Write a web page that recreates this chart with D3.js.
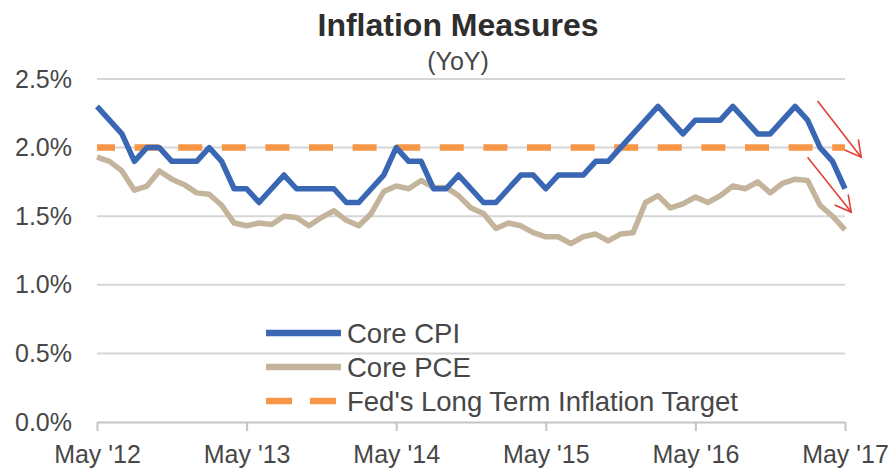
<!DOCTYPE html>
<html>
<head>
<meta charset="utf-8">
<script src="https://cdn.jsdelivr.net/npm/d3@7"></script>
<style>
  body { margin: 0; background: #fff; }
  text { font-family: "Liberation Sans", Arial, sans-serif; fill: #474747; }
</style>
</head>
<body>
<svg id="chart"></svg>
<script>
// months since May 2012 (0 .. 60)
let tickMonths = [0, 12, 24, 36, 48, 60];
let tickLabels = ["May '12", "May '13", "May '14", "May '15", "May '16", "May '17"];
let yTicks = [0, 0.5, 1.0, 1.5, 2.0, 2.5];

let coreCPI = [
  2.3, 2.2, 2.1, 1.9, 2.0, 2.0, 1.9, 1.9,
  1.9, 2.0, 1.9, 1.7, 1.7, 1.6, 1.7, 1.8, 1.7, 1.7, 1.7, 1.7,
  1.6, 1.6, 1.7, 1.8, 2.0, 1.9, 1.9, 1.7, 1.7, 1.8, 1.7, 1.6,
  1.6, 1.7, 1.8, 1.8, 1.7, 1.8, 1.8, 1.8, 1.9, 1.9, 2.0, 2.1,
  2.2, 2.3, 2.2, 2.1, 2.2, 2.2, 2.2, 2.3, 2.2, 2.1, 2.1, 2.2,
  2.3, 2.2, 2.0, 1.9, 1.7
];
let corePCE = [
  1.93, 1.90, 1.83, 1.69, 1.72, 1.83, 1.77, 1.73,
  1.67, 1.66, 1.58, 1.45, 1.43, 1.45, 1.44, 1.50, 1.49, 1.43, 1.49, 1.54,
  1.47, 1.43, 1.52, 1.68, 1.72, 1.70, 1.76, 1.71, 1.71, 1.65, 1.56, 1.52,
  1.41, 1.45, 1.43, 1.38, 1.35, 1.35, 1.30, 1.35, 1.37, 1.32, 1.37, 1.38,
  1.60, 1.65, 1.56, 1.59, 1.64, 1.60, 1.65, 1.72, 1.70, 1.75, 1.67, 1.74,
  1.77, 1.76, 1.58, 1.50, 1.40
];
let fedTarget = 2.0;

// red annotation arrows, in [month, value]
let arrows = [
  {from: [57.8, 2.34], to: [61.3, 1.93]},
  {from: [57.0, 1.93], to: [60.5, 1.53]}
];

let legendItems = [
  {name: "Core CPI", color: "#3a67b4", dash: null},
  {name: "Core PCE", color: "#c5b49c", dash: null},
  {name: "Fed's Long Term Inflation Target", color: "#f79646", dash: "26,18"}
];

let width = 894;
let height = 472;

let svg = d3.select("#chart")
  .attr("width", width)
  .attr("height", height);

let xScale = d3.scaleLinear().domain([0, 60]).range([97, 845]);
let yScale = d3.scaleLinear().domain([0, 2.5]).range([422, 79]);

// title
svg.append("text")
  .attr("x", 458).attr("y", 36)
  .attr("text-anchor", "middle")
  .style("font-size", "32px").style("font-weight", "bold")
  .style("fill", "#2e2e2e")
  .text("Inflation Measures");

svg.append("text")
  .attr("x", 458).attr("y", 70)
  .attr("text-anchor", "middle")
  .style("font-size", "25px")
  .text("(YoY)");

// gridlines
svg.append("g")
  .selectAll("line")
  .data(yTicks.filter(d => d > 0))
  .enter()
  .append("line")
  .attr("x1", xScale(0)).attr("x2", xScale(60))
  .attr("y1", d => yScale(d)).attr("y2", d => yScale(d))
  .attr("stroke", "#d6d6d6").attr("stroke-width", 2);

// y labels
let yAxis = d3.axisLeft(yScale)
  .tickValues(yTicks)
  .tickSize(0)
  .tickPadding(25);

let yAxisG = svg.append("g")
  .attr("transform", "translate(" + xScale(0) + ",0)")
  .call(yAxis);
yAxisG.select(".domain").remove();
yAxisG.selectAll("text")
  .text(d => d.toFixed(1) + "%")
  .style("font-size", "25px")
  .style("font-family", "'Liberation Sans', Arial, sans-serif")
  .attr("fill", "#474747");

// x axis
let xAxis = d3.axisBottom(xScale)
  .tickValues(tickMonths)
  .tickFormat((d, i) => tickLabels[i])
  .tickSizeInner(9)
  .tickSizeOuter(0)
  .tickPadding(14);

let xAxisG = svg.append("g")
  .attr("transform", "translate(0," + yScale(0) + ")")
  .call(xAxis);
xAxisG.select(".domain").attr("stroke", "#c4c4c4").attr("stroke-width", 2);
xAxisG.selectAll(".tick line").attr("stroke", "#c4c4c4").attr("stroke-width", 2);
xAxisG.selectAll("text")
  .style("font-size", "25px")
  .style("font-family", "'Liberation Sans', Arial, sans-serif")
  .attr("fill", "#474747");

// Fed target line
svg.append("line")
  .attr("x1", xScale(0)).attr("x2", xScale(60))
  .attr("y1", yScale(fedTarget)).attr("y2", yScale(fedTarget))
  .attr("stroke", legendItems[2].color)
  .attr("stroke-width", 6.5)
  .attr("stroke-dasharray", "24,19.6")
  .attr("stroke-dashoffset", 6);

let line = d3.line()
  .x((d, i) => xScale(i))
  .y(d => yScale(d));

svg.append("path")
  .datum(corePCE)
  .attr("d", line)
  .attr("fill", "none")
  .attr("stroke", legendItems[1].color)
  .attr("stroke-width", 5.5)
  .attr("stroke-linejoin", "round");

svg.append("path")
  .datum(coreCPI)
  .attr("d", line)
  .attr("fill", "none")
  .attr("stroke", legendItems[0].color)
  .attr("stroke-width", 5.5)
  .attr("stroke-linejoin", "round");

// arrows
let arrowG = svg.append("g")
  .attr("stroke", "#e53e36")
  .attr("stroke-width", 1.6)
  .attr("fill", "none");

arrows.forEach(a => {
  let x1 = xScale(a.from[0]), y1 = yScale(a.from[1]);
  let x2 = xScale(a.to[0]), y2 = yScale(a.to[1]);
  let ang = Math.atan2(y2 - y1, x2 - x1);
  let len = 18, spread = 0.5;
  arrowG.append("line")
    .attr("x1", x1).attr("y1", y1).attr("x2", x2).attr("y2", y2);
  arrowG.append("path")
    .attr("d", "M" + (x2 - len * Math.cos(ang - spread)) + "," + (y2 - len * Math.sin(ang - spread)) +
      "L" + x2 + "," + y2 +
      "L" + (x2 - len * Math.cos(ang + spread)) + "," + (y2 - len * Math.sin(ang + spread)));
});

// legend
let legend = svg.append("g");
let legendY = [333, 367, 401];

legendItems.forEach((item, i) => {
  legend.append("line")
    .attr("x1", 266).attr("x2", 341)
    .attr("y1", legendY[i]).attr("y2", legendY[i])
    .attr("stroke", item.color)
    .attr("stroke-width", 6.5)
    .attr("stroke-dasharray", item.dash);
  legend.append("text")
    .attr("x", 347).attr("y", legendY[i])
    .attr("dy", "0.35em")
    .style("font-size", "27.5px")
    .text(item.name);
});
</script>
</body>
</html>
